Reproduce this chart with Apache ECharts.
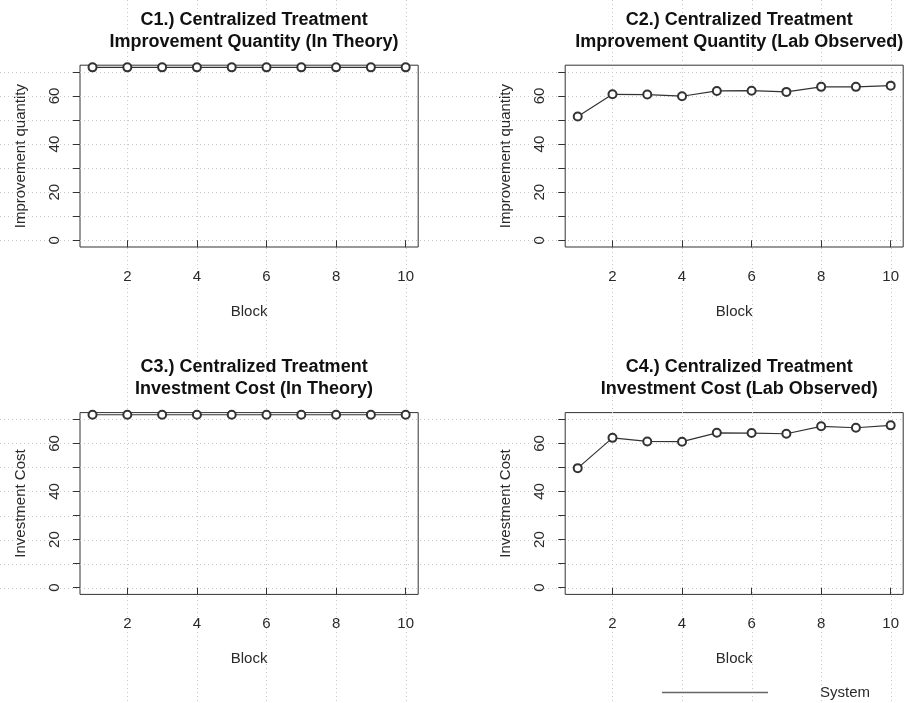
<!DOCTYPE html>
<html>
<head>
<meta charset="utf-8">
<script src="https://cdn.jsdelivr.net/npm/echarts@6/dist/echarts.min.js"></script>
<style>
  html, body { margin: 0; padding: 0; background: #fff; }
  #chart { width: 904px; height: 703px; }
</style>
</head>
<body>
<div id="chart"></div>
<script>
// Blocks of the experiment
const blocks = [1, 2, 3, 4, 5, 6, 7, 8, 9, 10];

// Improvement quantity per block
const theoryQuantity   = [71.9, 71.9, 71.9, 71.9, 71.9, 71.9, 71.9, 71.9, 71.9, 71.9];
const observedQuantity = [51.5, 60.7, 60.6, 59.9, 62.1, 62.2, 61.7, 63.8, 63.8, 64.3];

// Investment cost per block
const theoryCost   = [71.9, 71.9, 71.9, 71.9, 71.9, 71.9, 71.9, 71.9, 71.9, 71.9];
const observedCost = [49.7, 62.3, 60.8, 60.7, 64.4, 64.3, 64.0, 67.1, 66.5, 67.5];

// Axis ticks and labels
const xTicks = [2, 4, 6, 8, 10];
const yTicks = [0, 10, 20, 30, 40, 50, 60, 70];
const yLabels = [0, 20, 40, 60];

const panelTitles = [
  'C1.) Centralized Treatment\nImprovement Quantity (In Theory)',
  'C2.) Centralized Treatment\nImprovement Quantity (Lab Observed)',
  'C3.) Centralized Treatment\nInvestment Cost (In Theory)',
  'C4.) Centralized Treatment\nInvestment Cost (Lab Observed)'
];
const yNames = ['Improvement quantity', 'Improvement quantity', 'Investment Cost', 'Investment Cost'];
const panelData = [theoryQuantity, observedQuantity, theoryCost, observedCost];

const FONT = '"Liberation Sans", Arial, Helvetica, sans-serif';
const INK = '#2a2a2a';

// Panel frames (pixels)
const frames = [
  { left: 80,    top: 65.2,  width: 338.2, height: 181.8 },
  { left: 565.2, top: 65.2,  width: 338,   height: 181.8 },
  { left: 80,    top: 412.6, width: 338.2, height: 181.8 },
  { left: 565.2, top: 412.6, width: 338,   height: 181.8 }
];
const titleTops = [4, 4, 351, 351];

const grids = [], xAxes = [], yAxes = [], series = [], titles = [];
frames.forEach((f, i) => {
  grids.push(Object.assign({ show: true, borderColor: '#333', borderWidth: 1, backgroundColor: 'transparent', containLabel: false }, f));
  titles.push({
    text: panelTitles[i],
    left: f.left + f.width / 2,
    top: titleTops[i],
    textAlign: 'center',
    textStyle: { fontFamily: FONT, fontSize: 18, fontWeight: 'bold', color: '#111', lineHeight: 22 }
  });
  xAxes.push({
    type: 'value', gridIndex: i, min: 0.64, max: 10.36,
    name: 'Block', nameLocation: 'middle', nameGap: 57,
    nameTextStyle: { fontFamily: FONT, fontSize: 15, color: INK },
    axisLine: { show: false },
    axisTick: { show: true, length: 7, customValues: xTicks, lineStyle: { color: '#333' } },
    axisLabel: { customValues: xTicks, margin: 22, fontFamily: FONT, fontSize: 15, color: INK },
    splitLine: { show: false }
  });
  yAxes.push({
    type: 'value', gridIndex: i, min: -2.8, max: 72.8,
    name: yNames[i], nameLocation: 'middle', nameGap: 52,
    nameTextStyle: { fontFamily: FONT, fontSize: 15, color: INK },
    axisLine: { show: false },
    axisTick: { show: true, length: 7, customValues: yTicks, lineStyle: { color: '#333' } },
    axisLabel: { customValues: yLabels, rotate: 90, margin: 18, fontFamily: FONT, fontSize: 15, color: INK },
    splitLine: { show: false }
  });
  series.push({
    type: 'line', name: 'System', xAxisIndex: i, yAxisIndex: i,
    data: blocks.map((b, k) => [b, panelData[i][k]]),
    symbol: 'emptyCircle', symbolSize: 8, showSymbol: true,
    lineStyle: { color: '#333', width: 1.2 },
    itemStyle: { color: '#333', borderWidth: 1 },
    emphasis: { disabled: true },
    z: 3, animation: false
  });
});

const chart = echarts.init(document.getElementById('chart'), null, { renderer: 'canvas' });
chart.setOption({
  backgroundColor: '#fff',
  animation: false,
  title: titles,
  grid: grids,
  xAxis: xAxes,
  yAxis: yAxes,
  series: series,
  legend: {
    data: [{ name: 'System', icon: 'rect' }],
    left: 662, top: 685, padding: 0,
    itemWidth: 106, itemHeight: 1.5,
    itemStyle: { color: '#666', borderWidth: 0 },
    textStyle: { fontFamily: FONT, fontSize: 15, color: INK, padding: [0, 0, 0, 47] },
    selectedMode: false
  }
});

// Dotted reference lines, placed from the axis scales and spanning the whole canvas
const W = 904, H = 703;
const dots = [];
const dotStyle = { stroke: '#c8c8c8', lineWidth: 1, lineDash: [1, 3] };
[0, 1].forEach(col => {
  xTicks.forEach(v => {
    const x = Math.round(chart.convertToPixel({ xAxisIndex: col }, v)) + 0.5;
    dots.push({ type: 'line', silent: true, z: 0, shape: { x1: x, y1: 0, x2: x, y2: H }, style: dotStyle });
  });
});
[0, 2].forEach(row => {
  yTicks.forEach(v => {
    const y = Math.round(chart.convertToPixel({ yAxisIndex: row }, v)) + 0.5;
    dots.push({ type: 'line', silent: true, z: 0, shape: { x1: 0, y1: y, x2: W, y2: y }, style: dotStyle });
  });
});
chart.setOption({ graphic: dots });
</script>
</body>
</html>
